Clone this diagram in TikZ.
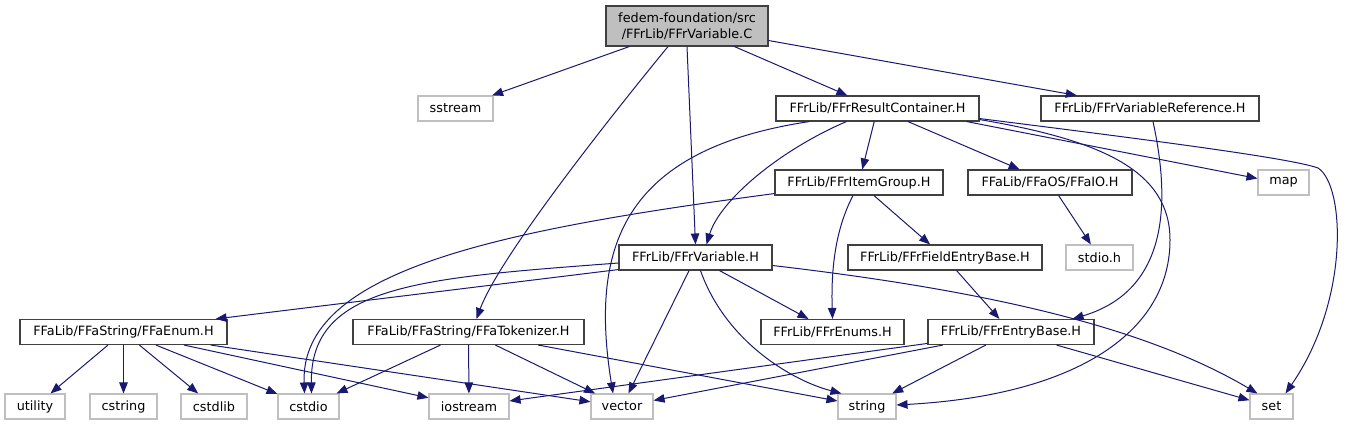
\documentclass[tikz,border=0pt]{standalone}
\usepackage{fontspec}
\setmainfont{DejaVu Sans}
\usetikzlibrary{arrows.meta,calc}
\definecolor{edgec}{HTML}{191970}
\definecolor{extc}{HTML}{BFBFBF}
\definecolor{docc}{HTML}{404040}
\tikzset{
  box/.style={draw=docc, line width=1.1pt, minimum height=25pt, inner sep=0pt,
    font=\fontsize{12.8}{15.5}\selectfont, text=black},
  ext/.style={box, draw=extc},
  rootbox/.style={box, fill=extc, minimum height=40pt, align=center},
  edge/.style={draw=edgec, line width=1pt, -{Triangle[length=11pt,width=8.5pt]}},
}
\begin{document}
\begin{tikzpicture}[x=1pt,y=-1pt]
\useasboundingbox (0,0) rectangle (1349,425);
% nodes
\node[rootbox, minimum width=162pt] (root) at (687,26) {fedem-foundation/src\\/FFrLib/FFrVariable.C};
\node[ext, minimum width=75pt] (sstream) at (455.5,108.5) {sstream};
\node[box, minimum width=203pt] (rc) at (877.5,108.5) {FFrLib/FFrResultContainer.H};
\node[box, minimum width=218pt] (varref) at (1150,108.5) {FFrLib/FFrVariableReference.H};
\node[box, minimum width=168pt] (itemgroup) at (859,182.5) {FFrLib/FFrItemGroup.H};
\node[box, minimum width=164pt] (ffaio) at (1050,182.5) {FFaLib/FFaOS/FFaIO.H};
\node[ext, minimum width=51pt] (map) at (1283.5,182.5) {map};
\node[box, minimum width=153pt] (var) at (695.5,257.5) {FFrLib/FFrVariable.H};
\node[box, minimum width=194pt] (fieldeb) at (945,257.5) {FFrLib/FFrFieldEntryBase.H};
\node[ext, minimum width=67pt] (stdioh) at (1099.5,257.5) {stdio.h};
\node[box, minimum width=207pt] (ffaenum) at (123.5,332) {FFaLib/FFaString/FFaEnum.H};
\node[box, minimum width=231pt] (tok) at (468.5,332) {FFaLib/FFaString/FFaTokenizer.H};
\node[box, minimum width=143pt] (enums) at (832.5,332) {FFrLib/FFrEnums.H};
\node[box, minimum width=166pt] (feb) at (1011,332) {FFrLib/FFrEntryBase.H};
\node[ext, minimum width=60pt] (utility) at (35,406.5) {utility};
\node[ext, minimum width=67pt] (cstring) at (123.5,406.5) {cstring};
\node[ext, minimum width=66pt] (cstdlib) at (214,406.5) {cstdlib};
\node[ext, minimum width=61pt] (cstdio) at (308.5,406.5) {cstdio};
\node[ext, minimum width=80pt] (iostream) at (469,406.5) {iostream};
\node[ext, minimum width=62pt] (vector) at (622,406.5) {vector};
\node[ext, minimum width=58pt] (string) at (867,406.5) {string};
\node[ext, minimum width=43pt] (set) at (1271.5,406.5) {set};
% edges from root
\draw[edge] (root) -- (sstream);
\draw[edge] ([xshift=-19pt]root.south) .. controls (620,105) and (500,255) .. ([xshift=8pt]tok.north);
\draw[edge] (root.south) -- (var.north);
\draw[edge] (root) -- (rc);
\draw[edge] (root) -- (varref);
% edges from FFrResultContainer.H
\draw[edge] ([xshift=34pt]rc.south west) .. controls (620,150) and (590,250) .. ([xshift=-9pt]vector.north);
\draw[edge] ([xshift=71pt]rc.south west) .. controls (780,150) and (720,200) .. ([xshift=11pt]var.north);
\draw[edge] (rc) -- (itemgroup);
\draw[edge] (rc) -- (ffaio);
\draw[edge] ([xshift=-13pt]rc.south east) -- ([yshift=4pt]map.west);
\draw[edge] ([yshift=2pt]rc.south east) .. controls (1100,140) and (1170,170) .. (1170,240)
  .. controls (1170,330) and (1080,395) .. ([yshift=1.5pt]string.east);
\draw[edge] ([yshift=3pt]rc.south east) .. controls (1150,140) and (1290,158) .. (1318,168)
  .. controls (1345,185) and (1350,300) .. ([xshift=14pt]set.north);
% FFrVariableReference.H
\draw[edge] ([xshift=3pt]varref.south) .. controls (1170,200) and (1170,290) .. ([xshift=-22pt]feb.north east);
% FFrItemGroup.H
\draw[edge] ([yshift=2pt]itemgroup.south west) .. controls (500,230) and (300,270) .. ([xshift=-4pt]cstdio.north);
\draw[edge] ([xshift=-6pt]itemgroup.south) .. controls (835,230) and (831,270) .. (enums.north);
\draw[edge] (itemgroup) -- (fieldeb);
% FFaIO, FieldEntryBase
\draw[edge] (ffaio) -- (stdioh);
\draw[edge] (fieldeb) -- (feb);
% FFrVariable.H
\draw[edge] ([yshift=1pt]var.south west) -- ([xshift=-12pt]ffaenum.north east);
\draw[edge] ([yshift=-5.5pt]var.west) .. controls (420,278) and (310,285) .. ([xshift=3pt]cstdio.north);
\draw[edge] (var) -- (enums);
\draw[edge] (var) -- (vector);
\draw[edge] ([xshift=5pt]var.south) .. controls (725,340) and (790,380) .. ([xshift=4pt]string.north west);
\draw[edge] ([yshift=-8pt]var.east) .. controls (1000,292) and (1150,330) .. ([xshift=8pt]set.north west);
% FFaEnum.H
\draw[edge] (ffaenum) -- (utility);
\draw[edge] (ffaenum) -- (cstring);
\draw[edge] (ffaenum) -- (cstdlib);
\draw[edge] (ffaenum) -- (cstdio);
\draw[edge] (ffaenum) -- (iostream);
\draw[edge] (ffaenum) -- (vector);
% FFaTokenizer.H
\draw[edge] (tok) -- (cstdio);
\draw[edge] (tok) -- (iostream);
\draw[edge] (tok) -- (vector);
\draw[edge] (tok) -- (string);
% FFrEntryBase.H
\draw[edge] (feb) -- (iostream);
\draw[edge] (feb) -- (vector);
\draw[edge] (feb) -- (string);
\draw[edge] (feb) -- (set);
\end{tikzpicture}
\end{document}
